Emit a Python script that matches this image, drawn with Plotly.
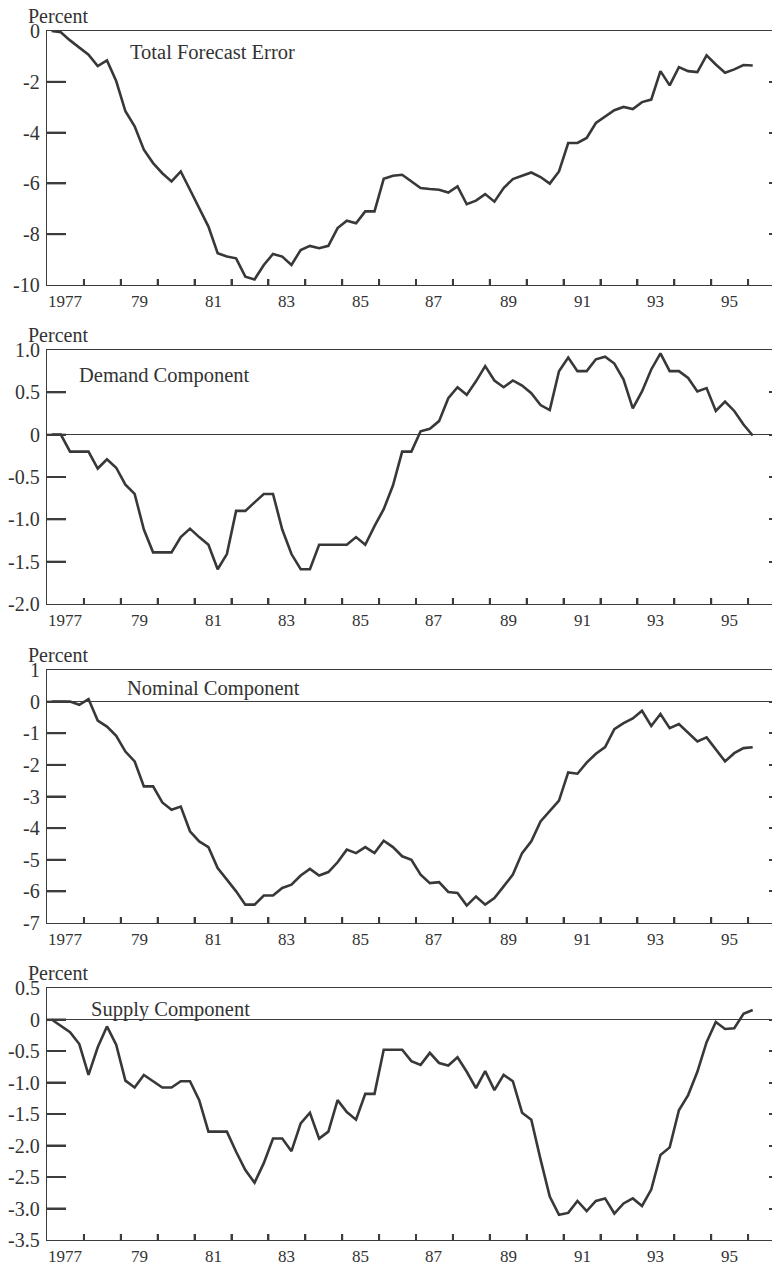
import plotly.graph_objects as go

# ---------------- data (quarterly, 1977Q1 .. 1996Q1) ----------------
start_year = 1977
n_quarters = 77
# mid-quarter positions on a continuous year axis
quarters = [start_year + (i // 4) + (i % 4) * 0.25 + 0.125 for i in range(n_quarters)]

total_error = [0, -0.05, -0.37, -0.64, -0.93, -1.38, -1.16, -1.97, -3.16, -3.75,
               -4.67, -5.2, -5.6, -5.92, -5.53, -6.25, -6.97, -7.7, -8.75, -8.88,
               -8.95, -9.67, -9.78, -9.21, -8.78, -8.88, -9.21, -8.62, -8.46, -8.55,
               -8.46, -7.76, -7.47, -7.57, -7.1, -7.1, -5.82, -5.7, -5.66, -5.92,
               -6.18, -6.22, -6.25, -6.36, -6.12, -6.82, -6.68, -6.42, -6.72, -6.18,
               -5.83, -5.7, -5.57, -5.75, -6.01, -5.53, -4.41, -4.41, -4.21, -3.62,
               -3.36, -3.12, -2.99, -3.07, -2.8, -2.7, -1.58, -2.14, -1.42, -1.58,
               -1.62, -0.96, -1.32, -1.64, -1.51, -1.34, -1.36]

demand = [0, 0, -0.2, -0.2, -0.2, -0.4, -0.29, -0.39, -0.59, -0.7,
          -1.12, -1.39, -1.39, -1.39, -1.21, -1.11, -1.21, -1.3, -1.59, -1.41,
          -0.9, -0.9, -0.8, -0.7, -0.7, -1.12, -1.41, -1.59, -1.59, -1.3,
          -1.3, -1.3, -1.3, -1.21, -1.3, -1.08, -0.88, -0.6, -0.2, -0.2,
          0.04, 0.07, 0.16, 0.43, 0.56, 0.47, 0.63, 0.81, 0.64, 0.56,
          0.64, 0.58, 0.49, 0.35, 0.29, 0.75, 0.91, 0.75, 0.75, 0.89,
          0.92, 0.84, 0.65, 0.31, 0.51, 0.77, 0.96, 0.75, 0.75, 0.67,
          0.51, 0.55, 0.28, 0.39, 0.28, 0.12, -0.01]

nominal = [0, 0, 0, -0.1, 0.08, -0.6, -0.79, -1.08, -1.58, -1.89,
           -2.68, -2.68, -3.19, -3.42, -3.32, -4.1, -4.42, -4.6, -5.26, -5.63,
           -6.0, -6.42, -6.42, -6.13, -6.13, -5.89, -5.79, -5.5, -5.29, -5.5,
           -5.39, -5.08, -4.68, -4.79, -4.6, -4.79, -4.4, -4.6, -4.89, -5.0,
           -5.47, -5.74, -5.71, -6.02, -6.05, -6.45, -6.16, -6.42, -6.21, -5.84,
           -5.47, -4.79, -4.42, -3.79, -3.47, -3.13, -2.24, -2.28, -1.93, -1.65,
           -1.44, -0.87, -0.68, -0.53, -0.29, -0.77, -0.39, -0.84, -0.71, -1.0,
           -1.26, -1.13, -1.51, -1.89, -1.63, -1.47, -1.44]

supply = [0, -0.1, -0.2, -0.39, -0.88, -0.44, -0.11, -0.4, -0.97, -1.08,
          -0.88, -0.98, -1.08, -1.08, -0.98, -0.98, -1.28, -1.78, -1.78, -1.78,
          -2.1, -2.39, -2.59, -2.28, -1.89, -1.89, -2.09, -1.65, -1.48, -1.89,
          -1.78, -1.28, -1.47, -1.59, -1.18, -1.18, -0.48, -0.48, -0.48, -0.66,
          -0.72, -0.53, -0.69, -0.73, -0.6, -0.83, -1.09, -0.82, -1.12, -0.88,
          -0.98, -1.48, -1.59, -2.22, -2.81, -3.1, -3.07, -2.88, -3.04, -2.88,
          -2.84, -3.08, -2.92, -2.84, -2.96, -2.7, -2.15, -2.03, -1.44, -1.2,
          -0.83, -0.36, -0.04, -0.15, -0.14, 0.09, 0.15]

titles = ["Total Forecast Error", "Demand Component", "Nominal Component", "Supply Component"]
series = [total_error, demand, nominal, supply]

x_label_vals = [1977.5, 1979.5, 1981.5, 1983.5, 1985.5, 1987.5, 1989.5, 1991.5, 1993.5, 1995.5]
x_label_text = ["1977", "79", "81", "83", "85", "87", "89", "91", "93", "95"]
x_year_ticks = list(range(1978, 1997))

y_ranges = [[-10, 0], [-2.0, 1.0], [-7, 1], [-3.5, 0.5]]
y_tickvals = [
    [0, -2, -4, -6, -8, -10],
    [1.0, 0.5, 0, -0.5, -1.0, -1.5, -2.0],
    [1, 0, -1, -2, -3, -4, -5, -6, -7],
    [0.5, 0, -0.5, -1.0, -1.5, -2.0, -2.5, -3.0, -3.5],
]
y_ticktext = [
    ["0", "-2", "-4", "-6", "-8", "-10"],
    ["1.0", "0.5", "0", "-0.5", "-1.0", "-1.5", "-2.0"],
    ["1", "0", "-1", "-2", "-3", "-4", "-5", "-6", "-7"],
    ["0.5", "0", "-0.5", "-1.0", "-1.5", "-2.0", "-2.5", "-3.0", "-3.5"],
]

# ---------------- layout geometry ----------------
# the page body has an 8px margin, so figure coords = page coords - 8
OFF = 8
W, H = 780, 1265 - OFF
ML, MR, MT, MB = 47 - OFF, 0, 31 - OFF, 25
PW = W - ML - MR
PH = H - MT - MB
panel_px = [(31, 285), (350, 604), (670, 923), (988, 1240)]  # page top, bottom
domains = [[(H - MB - (b - OFF)) / PH, (H - MB - (t - OFF)) / PH] for t, b in panel_px]
title_px = [(128, 52), (77, 375), (125, 688), (89, 1009)]

FONT = "Liberation Serif"
AX = "#3c3c3c"
LINE = "#383838"
TXT = "#333333"
PX_PER_YEAR = 36.9
x_range = [1977, 1977 + PW / PX_PER_YEAR]
Y_TICK_LEN = 19      # px
X_TICK_LEN = 6       # px
TICK_W = 2

fig = go.Figure()
annotations = []
shapes = []
layout = dict(
    width=W, height=H, autosize=False,
    margin=dict(l=ML, r=MR, t=MT, b=MB),
    paper_bgcolor="white", plot_bgcolor="white",
    showlegend=False,
    font=dict(family=FONT, size=20, color=TXT),
)

for k in range(4):
    n = k + 1
    xa = "x" if n == 1 else f"x{n}"
    ya = "y" if n == 1 else f"y{n}"
    panel_h = panel_px[k][1] - panel_px[k][0]
    fig.add_trace(go.Scatter(
        x=quarters, y=series[k], mode="lines",
        line=dict(color=LINE, width=2.6),
        xaxis=xa, yaxis=ya, hoverinfo="skip",
    ))

    layout[f"xaxis{'' if n == 1 else n}"] = dict(
        domain=[0, 1], range=x_range, anchor=ya,
        showline=True, linecolor=AX, linewidth=1.3, mirror=True,
        showgrid=False, zeroline=False, showticklabels=False,
        tickmode="array", tickvals=x_year_ticks,
        ticks="inside", ticklen=X_TICK_LEN, tickwidth=TICK_W, tickcolor=AX,
    )
    layout[f"yaxis{'' if n == 1 else n}"] = dict(
        domain=domains[k], range=y_ranges[k], anchor=xa,
        showline=True, linecolor=AX, linewidth=1.3, mirror="allticks",
        showgrid=False, showticklabels=False,
        zeroline=True, zerolinecolor=AX, zerolinewidth=1.3,
        tickmode="array", tickvals=y_tickvals[k],
        ticks="inside", ticklen=Y_TICK_LEN, tickwidth=TICK_W, tickcolor=AX,
    )

    # tick marks (left side of y axis, bottom of x axis) positioned by the axes
    for v in y_tickvals[k][1:-1]:
        shapes.append(dict(
            type="line", xref=f"{xa} domain", yref=ya,
            x0=0, x1=Y_TICK_LEN / PW, y0=v, y1=v,
            line=dict(color=AX, width=TICK_W), layer="above",
        ))
    for v in x_year_ticks:
        shapes.append(dict(
            type="line", xref=xa, yref=f"{ya} domain",
            x0=v, x1=v, y0=0, y1=X_TICK_LEN / panel_h,
            line=dict(color=AX, width=TICK_W), layer="above",
        ))

    # y tick labels
    for v, t in zip(y_tickvals[k], y_ticktext[k]):
        annotations.append(dict(
            text=t, xref="paper", x=0, yref=ya, y=v,
            xanchor="right", yanchor="middle", xshift=-5, showarrow=False,
            font=dict(family=FONT, size=20, color=TXT),
        ))
    # x tick labels
    for v, t in zip(x_label_vals, x_label_text):
        annotations.append(dict(
            text=t, xref=xa, x=v, yref="paper", y=domains[k][0],
            xanchor="center", yanchor="top", yshift=-5, showarrow=False,
            font=dict(family=FONT, size=17, color=TXT),
        ))

    annotations.append(dict(
        text="Percent", xref="paper", yref="paper",
        x=(26 - OFF - ML) / PW, y=domains[k][1],
        xanchor="left", yanchor="bottom", yshift=2, showarrow=False,
        font=dict(family=FONT, size=20, color=TXT),
    ))
    tx, ty = title_px[k]
    annotations.append(dict(
        text=titles[k], xref="paper", yref="paper",
        x=(tx - OFF - ML) / PW, y=(H - MB - (ty - OFF)) / PH,
        xanchor="left", yanchor="middle", showarrow=False,
        font=dict(family=FONT, size=20.5, color=TXT),
    ))

layout["annotations"] = annotations
layout["shapes"] = shapes
fig.update_layout(**layout)
fig.write_html("out.html")
